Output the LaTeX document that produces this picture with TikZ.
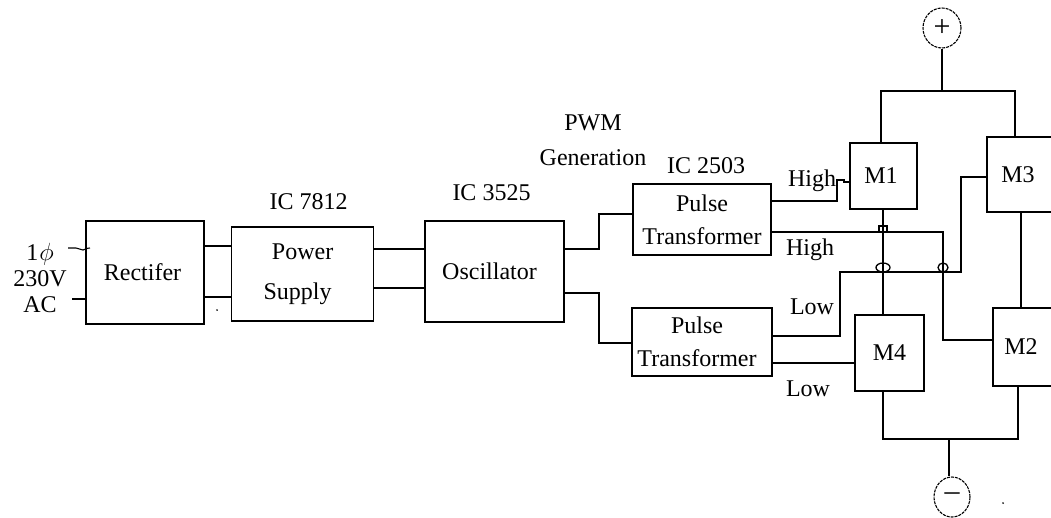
\documentclass[tikz,border=0pt]{standalone}
\usepackage{fontspec}
\setmainfont{Liberation Serif}
\usetikzlibrary{positioning, calc, shapes.geometric}

\begin{document}
\begin{tikzpicture}[
    x=1pt, y=-1pt,
    every node/.style={font=\fontsize{24}{33}\selectfont},
    block/.style={draw, line width=1.1pt, inner sep=0pt, align=center},
    lbl/.style={inner sep=0pt, align=center},
    wire/.style={line width=1.1pt},
    hop/.style={line width=1.3pt},
    terminal/.style={draw, ellipse, line width=1.1pt, dash pattern=on 3pt off 1pt, inner sep=0pt}
]
    \useasboundingbox (0,0) rectangle (1051,517);

    % main chain
    \node[block, minimum width=118pt, minimum height=103pt] (rectifier) at (145,272.5) {Rectifer\hspace*{5pt}};
    \node[block, minimum width=142pt, minimum height=94pt, right=26.5pt of rectifier, yshift=-1.5pt] (supply) {Power\\[7pt]Supply\hspace*{10pt}};
    \node[block, minimum width=139pt, minimum height=101pt] (oscillator) at (494.5,271.5) {Oscillator\hspace*{10pt}};
    \node[block, minimum width=138pt, minimum height=71pt] (pulsehigh) at (702,219.5) {Pulse\\Transformer};
    \node[block, minimum width=140pt, minimum height=68pt] (pulselow) at (702,342) {Pulse\hspace*{10pt}\\Transformer\hspace*{10pt}};

    % switches
    \node[block, minimum width=67pt, minimum height=66pt] (mone) at (883.5,176) {M1\hspace*{5pt}};
    \node[block, minimum width=66pt, minimum height=75pt] (mthree) at (1020,174.5) {M3\hspace*{4pt}};
    \node[block, minimum width=60pt, minimum height=78pt] (mtwo) at (1023,347) {M2\hspace*{4pt}};
    \node[block, minimum width=69pt, minimum height=76pt] (mfour) at (889.5,353) {M4};

    % supply terminals
    \node[terminal, minimum width=38pt, minimum height=40pt, font=\fontsize{30}{30}\selectfont] (plus) at (942,28) {+};
    \node[terminal, minimum width=36pt, minimum height=40pt, font=\fontsize{30}{30}\selectfont] (minus) at (952,497) {--};
    \coordinate (topbus) at (942,91);
    \coordinate (botbus) at (949,439);

    % labels
    \node[lbl] (mains) at (40,278) {1\hspace{1pt}$\phi$\\[-7pt]230V\\[-7pt]AC};
    \node[lbl, above=17pt of supply, xshift=6pt] (icsupply) {IC 7812};
    \node[lbl, above=20pt of oscillator, xshift=-3pt] (icosc) {IC 3525};
    \node[lbl] (pwm) at (593,123) {PWM};
    \node[lbl] (generation) at (593,158) {Generation};
    \node[lbl] (icpulse) at (706,166) {IC 2503};
    \node[lbl] (highone) at (812,181) {High};
    \node[lbl] (hightwo) at (810,250) {High};
    \node[lbl] (lowone) at (812,307) {Low};
    \node[lbl] (lowtwo) at (808,389) {Low};

    % stray dots
    \node[fill, circle, inner sep=0.7pt] (dotleft) at (217,310) {};
    \node[fill, circle, inner sep=0.7pt] (dotright) at (1003,503) {};

    % input
    \coordinate (acone) at (68,248);
    \coordinate (actwo) at (72,299);
    \draw[wire] (acone) -- (76,248) .. controls (79,248) and (80,250) .. (83,250) .. controls (85,250) and (86,248) .. (90,248);
    \draw[wire] (actwo) -- (rectifier.west |- actwo);

    % chain wires
    \draw[wire] (rectifier.east |- 0,246) -- (supply.west |- 0,246);
    \draw[wire] (rectifier.east |- 0,297) -- (supply.west |- 0,297);
    \draw[wire] (supply.east |- 0,249) -- (oscillator.west |- 0,249);
    \draw[wire] (supply.east |- 0,288) -- (oscillator.west |- 0,288);
    \draw[wire] (oscillator.east |- 0,249) -- (599,249) -- (599,214) -- (pulsehigh.west |- 0,214);
    \draw[wire] (oscillator.east |- 0,293) -- (599,293) -- (599,343) -- (pulselow.west |- 0,343);

    % gate drive
    \draw[wire] (pulsehigh.east |- 0,201) -- (837,201) -- (837,180) -- (844,180) -- (844,182) -- (mone.west |- 0,182);
    \draw[wire] (pulsehigh.east |- 0,232) -- (943,232) -- (943,340) -- (mtwo.west |- 0,340);
    \draw[wire] (pulselow.east |- 0,336) -- (840,336) -- (840,272) -- (961,272) -- (961,177) -- (mthree.west |- 0,177);
    \draw[wire] (pulselow.east |- 0,363) -- (mfour.west |- 0,363);

    % bridge
    \draw[wire] (plus) -- (topbus);
    \draw[wire] (mone.north -| 881,0) -- (881,91) -- (1015,91) -- (mthree.north -| 1015,0);
    \draw[wire] (mone.south -| 883,0) -- (mfour.north -| 883,0);
    \draw[wire] (mthree.south -| 1021,0) -- (mtwo.north -| 1021,0);
    \draw[wire] (mfour.south -| 883,0) -- (883,439) -- (1018,439) -- (mtwo.south -| 1018,0);
    \draw[wire] (botbus) -- (botbus |- minus.north);

    % crossings
    \draw[hop] (879,226) rectangle (887,232);
    \draw[hop] (883,267.5) ellipse (7pt and 4.5pt);
    \draw[hop] (943,267.5) ellipse (5pt and 4.5pt);
\end{tikzpicture}
\end{document}
